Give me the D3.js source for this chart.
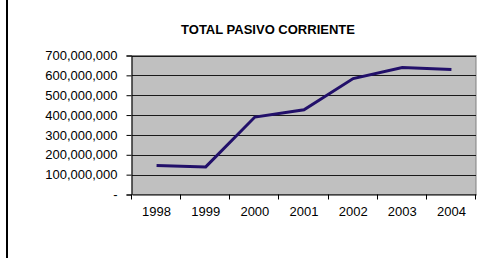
<!DOCTYPE html>
<html>
<head>
<meta charset="utf-8">
<script src="https://cdn.jsdelivr.net/npm/d3@7"></script>
<style>
  body { margin: 0; background: #fff; }
  svg text { font-family: "Liberation Sans", Arial, sans-serif; fill: #000; }
</style>
</head>
<body>
<div id="chart"></div>
<script>
var years = ["1998", "1999", "2000", "2001", "2002", "2003", "2004"];
var pasivo = [146000000, 139000000, 390000000, 427000000, 584000000, 639000000, 630000000];
var yTicks = [0, 100000000, 200000000, 300000000, 400000000, 500000000, 600000000, 700000000];

var width = 487, height = 261;
var plot = {left: 132, right: 476, top: 55.5, bottom: 194.5};

var svg = d3.select("#chart")
    .append("svg")
    .attr("width", width)
    .attr("height", height);

// thin frame line on the left of the picture
svg.append("line")
    .attr("x1", 7).attr("x2", 7)
    .attr("y1", 0).attr("y2", 258)
    .attr("stroke", "#000")
    .attr("stroke-width", 2);

svg.append("text")
    .attr("x", 268)
    .attr("y", 34)
    .attr("text-anchor", "middle")
    .style("font-size", "13px")
    .style("font-weight", "bold")
    .text("TOTAL PASIVO CORRIENTE");

var xScale = d3.scaleBand()
    .domain(years)
    .range([plot.left, plot.right])
    .paddingInner(0);

var yScale = d3.scaleLinear()
    .domain([0, 700000000])
    .range([plot.bottom, plot.top]);

// plot area
svg.append("rect")
    .attr("x", plot.left)
    .attr("y", plot.top)
    .attr("width", plot.right - plot.left)
    .attr("height", plot.bottom - plot.top)
    .attr("fill", "#c0c0c0")
    .attr("stroke", "#808080")
    .attr("stroke-width", 1);

// gridlines
svg.selectAll(".grid")
    .data(yTicks.slice(1))
    .enter()
    .append("line")
    .attr("x1", plot.left)
    .attr("x2", plot.right)
    .attr("y1", function(d) { return Math.round(yScale(d)) + 0.5 })
    .attr("y2", function(d) { return Math.round(yScale(d)) + 0.5 })
    .attr("stroke", "#1a1a1a")
    .attr("stroke-width", 1);

var fmt = d3.format(",");

var yAxis = d3.axisLeft(yScale)
    .tickValues(yTicks)
    .tickSize(5)
    .tickPadding(9)
    .tickFormat(function(d) { return d === 0 ? "-" : fmt(d) });

var gy = svg.append("g")
    .attr("transform", "translate(" + (plot.left - 0.5) + ",0)")
    .call(yAxis);
gy.select(".domain").attr("stroke", "#000");
gy.selectAll(".tick line").attr("stroke", "#000");
gy.selectAll("text")
    .style("font-size", "13px")
    .style("font-family", "Liberation Sans, Arial, sans-serif")
    .attr("fill", "#000");

// category axis: labels centered in bands, ticks on band edges
var xAxis = d3.axisBottom(xScale)
    .tickSize(0)
    .tickPadding(12);

var gx = svg.append("g")
    .attr("transform", "translate(0," + (plot.bottom) + ")")
    .call(xAxis);
gx.select(".domain").attr("stroke", "#000");
gx.selectAll("text")
    .style("font-size", "13px")
    .style("font-family", "Liberation Sans, Arial, sans-serif")
    .attr("fill", "#000");

var edges = years.map(function(y) { return xScale(y) }).concat([plot.right]);
gx.selectAll(".edge")
    .data(edges)
    .enter()
    .append("line")
    .attr("x1", function(d) { return Math.round(d) - 0.5 })
    .attr("x2", function(d) { return Math.round(d) - 0.5 })
    .attr("y1", 0)
    .attr("y2", 5)
    .attr("stroke", "#000");

var line = d3.line()
    .x(function(d, i) { return xScale(years[i]) + xScale.bandwidth() / 2 })
    .y(function(d) { return yScale(d) });

svg.append("path")
    .datum(pasivo)
    .attr("d", line)
    .attr("fill", "none")
    .attr("stroke", "#22106a")
    .attr("stroke-width", 3);
</script>
</body>
</html>
